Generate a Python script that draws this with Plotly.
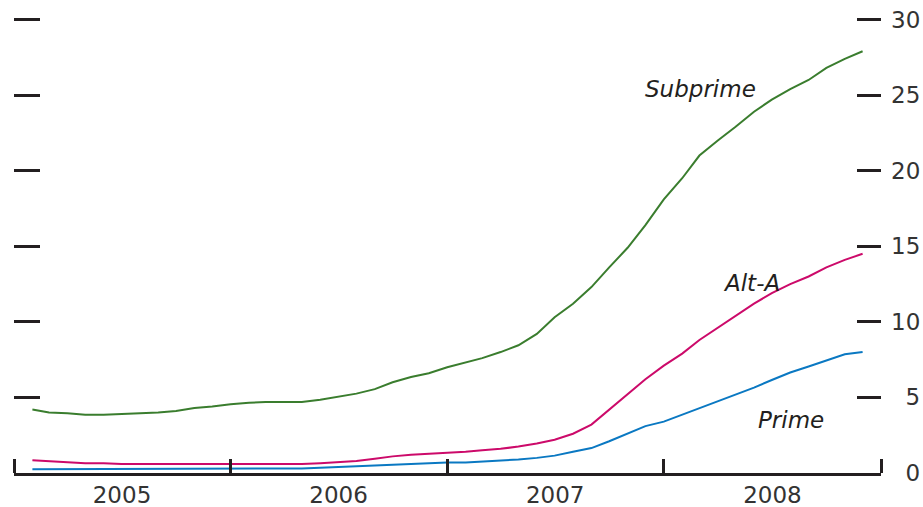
import pandas as pd
import plotly.graph_objects as go

months = pd.date_range("2005-02-01", "2008-12-01", freq="MS").strftime("%Y-%m-%d").tolist()

subprime = [4.2, 4.0, 3.95, 3.85, 3.85, 3.9, 3.95, 4.0, 4.1, 4.3, 4.4, 4.55,
            4.65, 4.7, 4.7, 4.7, 4.85, 5.05, 5.25, 5.55, 6.0, 6.35, 6.6, 7.0,
            7.3, 7.6, 8.0, 8.45, 9.2, 10.3, 11.2, 12.3, 13.6, 14.9, 16.4, 18.1,
            19.5, 21.0, 22.0, 22.9, 23.9, 24.7, 25.4, 26.0, 26.8, 27.4, 27.9]
alt_a = [0.85, 0.8, 0.7, 0.65, 0.65, 0.6, 0.6, 0.6, 0.6, 0.6, 0.6, 0.6,
         0.6, 0.6, 0.6, 0.6, 0.65, 0.7, 0.8, 0.95, 1.1, 1.2, 1.25, 1.3,
         1.4, 1.5, 1.6, 1.75, 1.95, 2.2, 2.6, 3.2, 4.2, 5.2, 6.2, 7.1,
         7.9, 8.8, 9.6, 10.4, 11.2, 11.9, 12.5, 13.0, 13.6, 14.1, 14.5]
prime = [0.25, 0.25, 0.25, 0.25, 0.25, 0.25, 0.25, 0.25, 0.25, 0.25, 0.25, 0.3,
         0.3, 0.3, 0.3, 0.3, 0.35, 0.4, 0.45, 0.5, 0.55, 0.6, 0.65, 0.7,
         0.7, 0.75, 0.8, 0.9, 1.0, 1.15, 1.4, 1.65, 2.1, 2.6, 3.1, 3.4,
         3.85, 4.3, 4.75, 5.2, 5.65, 6.15, 6.65, 7.05, 7.45, 7.85, 8.0]

year_bounds = ["2005-01-01", "2006-01-01", "2007-01-01", "2008-01-01", "2009-01-01"]
year_mids = ["2005-07-02", "2006-07-02", "2007-07-02", "2008-07-02"]
year_labels = ["2005", "2006", "2007", "2008"]
y_ticks = [0, 5, 10, 15, 20, 25, 30]
NB = "\u00a0\u00a0"
y_labels = [NB + "0", NB + "5", "10", "15", "20", "25", "30"]

DARK = "#231f20"
FONT = "DejaVu Sans"
Y_RANGE = [0, 30.1]

fig = go.Figure()
fig.add_trace(go.Scatter(x=months, y=prime, mode="lines", line=dict(color="#0a78c2", width=2),
                         xaxis="x", yaxis="y", showlegend=False, name="Prime"))
fig.add_trace(go.Scatter(x=months, y=alt_a, mode="lines", line=dict(color="#cc0a6a", width=2),
                         xaxis="x", yaxis="y", showlegend=False, name="Alt-A"))
fig.add_trace(go.Scatter(x=months, y=subprime, mode="lines", line=dict(color="#3a7d2e", width=2),
                         xaxis="x", yaxis="y2", showlegend=False, name="Subprime"))

W, H = 923, 507
L, R, T, B = 14, 42, 18, 34

fig.update_layout(
    width=W, height=H,
    margin=dict(l=L, r=R, t=T, b=B, autoexpand=False),
    paper_bgcolor="white", plot_bgcolor="white",
    font=dict(family=FONT, color=DARK),
    xaxis=dict(
        type="date",
        range=[year_bounds[0], year_bounds[-1]],
        showgrid=False, zeroline=False,
        showline=True, linewidth=3, linecolor=DARK,
        tickmode="array", tickvals=year_mids, ticktext=year_labels, ticks="",
        ticklabelstandoff=-1, ticklabeloverflow="allow",
        tickfont=dict(size=23, color="#333333", family=FONT),
        minor=dict(tickmode="array", tickvals=year_bounds, ticks="inside",
                   ticklen=14, tickwidth=3, tickcolor=DARK, showgrid=False),
    ),
    xaxis2=dict(
        overlaying="x", anchor="y", side="bottom", type="date",
        range=[year_bounds[0], year_bounds[-1]],
        showgrid=False, zeroline=False, showline=False,
        tickmode="array", tickvals=year_bounds, ticks="outside",
        ticklen=5, tickwidth=3, tickcolor=DARK, showticklabels=False,
    ),
    yaxis=dict(
        range=Y_RANGE, showgrid=False, zeroline=False, showline=False,
        tickmode="array", tickvals=y_ticks, ticks="inside", ticklen=26,
        tickwidth=3, tickcolor=DARK, showticklabels=False,
    ),
    yaxis2=dict(
        range=Y_RANGE, overlaying="y", anchor="x", side="right",
        showgrid=False, zeroline=False, showline=False,
        tickmode="array", tickvals=y_ticks, ticktext=y_labels,
        ticks="inside", ticklen=24, tickwidth=3, tickcolor=DARK,
        ticklabelposition="outside", ticklabelstandoff=9,
        ticklabeloverflow="allow",
        tickfont=dict(size=23, color="#333333", family=FONT),
    ),
)

label_font = dict(family="DejaVu Sans", size=23, color=DARK)
fig.add_annotation(x="2008-03-03", y=25.4, text="<i>Subprime</i>", showarrow=False,
                   xref="x", yref="y", font=label_font)
fig.add_annotation(x="2008-05-28", y=12.55, text="<i>Alt-A</i>", showarrow=False,
                   xref="x", yref="y", font=label_font)
fig.add_annotation(x="2008-08-02", y=3.5, text="<i>Prime</i>", showarrow=False,
                   xref="x", yref="y", font=label_font)

# remove the browser's default 8px body margin so the figure fills the window exactly
fig.write_html(
    "out.html",
    config={"displayModeBar": False},
    post_script="document.body.style.margin='0';document.body.style.overflow='hidden';",
)
